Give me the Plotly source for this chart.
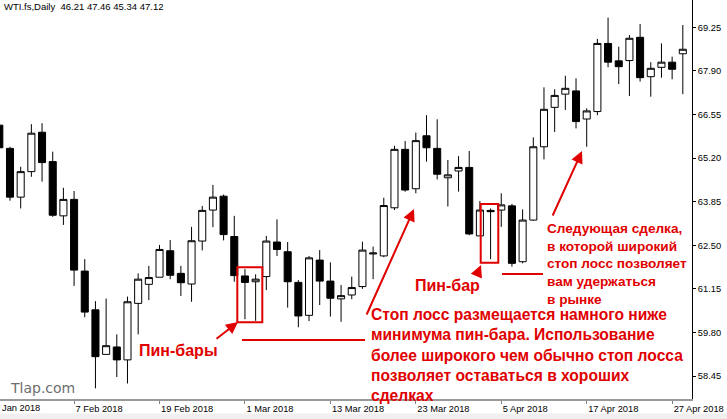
import plotly.graph_objects as go

# ---------------- data ----------------
bar_index = list(range(65))  # trading-day index, bar 0 = 29 Jan 2018

opens = [66.22, 65.50, 63.99, 64.78, 66.00, 65.09, 63.41, 63.92, 61.70, 60.50,
         59.12, 59.35, 58.95, 60.70, 61.29, 61.51, 62.33, 61.63, 61.30, 62.63,
         63.59, 64.02, 62.77, 61.55, 61.37, 61.53, 62.60, 62.30, 61.35, 60.33,
         62.04, 61.39, 60.84, 60.96, 61.22, 62.23, 62.17, 63.66, 65.47, 64.25,
         65.89, 65.50, 64.59, 64.80, 64.91, 62.79, 63.58, 63.59, 63.72, 61.99,
         63.28, 65.55, 66.77, 67.18, 67.28, 66.41, 66.64, 68.75, 68.21, 68.22,
         68.94, 67.72, 68.01, 68.17, 68.43]
highs = [66.30, 65.55, 64.93, 66.25, 66.28, 65.40, 64.28, 64.18, 62.07, 60.77,
         60.85, 59.74, 60.91, 61.63, 61.86, 62.51, 62.66, 61.86, 63.07, 63.72,
         64.37, 64.07, 63.41, 61.76, 61.60, 62.79, 63.30, 62.60, 61.42, 62.17,
         62.35, 61.97, 61.27, 61.53, 62.61, 62.46, 63.97, 65.58, 65.73, 65.99,
         66.53, 66.40, 65.14, 65.26, 65.42, 63.87, 63.64, 64.11, 63.78, 63.61,
         65.84, 67.39, 67.33, 67.75, 67.67, 66.74, 68.89, 69.55, 68.65, 69.01,
         69.35, 68.17, 68.75, 68.34, 69.32]
lows = [65.45, 63.88, 63.64, 64.62, 64.47, 63.38, 63.13, 61.24, 60.27, 58.07,
        59.12, 58.42, 58.22, 59.74, 60.80, 61.51, 61.45, 60.93, 60.75, 62.34,
        63.06, 62.65, 61.37, 60.21, 60.16, 61.11, 62.17, 60.57, 59.96, 60.15,
        60.65, 60.29, 60.13, 60.83, 61.15, 61.45, 62.13, 63.59, 64.16, 64.11,
        65.09, 64.54, 63.70, 64.16, 62.81, 62.79, 62.07, 63.07, 61.84, 61.94,
        63.26, 65.16, 66.01, 66.69, 66.12, 65.55, 66.53, 68.01, 67.49, 67.12,
        67.57, 67.10, 67.69, 67.64, 67.18]
closes = [65.52, 63.99, 64.78, 65.97, 65.06, 63.43, 63.92, 61.73, 60.43, 59.05,
          59.39, 58.95, 60.75, 61.45, 61.50, 62.37, 61.57, 61.34, 62.64, 63.58,
          63.99, 62.83, 61.56, 61.35, 61.45, 62.63, 62.37, 61.37, 60.31, 62.11,
          61.39, 60.86, 60.94, 61.19, 62.35, 62.26, 63.73, 65.47, 64.21, 65.74,
          65.52, 64.70, 64.68, 64.91, 62.85, 63.59, 63.54, 63.75, 61.94, 63.28,
          65.55, 66.71, 67.14, 67.36, 66.33, 66.66, 68.75, 68.17, 68.03, 68.91,
          67.69, 67.98, 68.17, 67.95, 68.57]

date_tick_index = [7, 15, 23, 31, 39, 47, 55, 63]
date_tick_labels = ["7 Feb 2018", "19 Feb 2018", "1 Mar 2018", "13 Mar 2018",
                    "23 Mar 2018", "5 Apr 2018", "17 Apr 2018", "27 Apr 2018"]
price_ticks = [58.45, 59.80, 61.15, 62.50, 63.85, 65.20, 66.55, 67.90, 69.25]

header_text = "WTI.fs,Daily\u00a0\u00a046.21 47.46 45.34 47.12"
label_pins = "Пин-бары"
label_pin = "Пин-бар"
note_main = ["Стоп лосс размещается намного ниже",
             "минимума пин-бара. Использование",
             "более широкого чем обычно стоп лосса",
             "позволяет оставаться в хороших",
             "сделках"]
note_next = ["Следующая сделка,",
             "в которой широкий",
             "стоп лосс позволяет",
             "вам удержаться",
             "в рынке"]

# ---------------- layout helpers ----------------
W, H = 727, 419
ML, MR, MT, MB = 0, 35, 0, 20
PW, PH = W - ML - MR, H - MT - MB
RED = "#e00000"
FONT = "Liberation Sans"


def fx(p):
    return p / PW


def fy(p):
    return 1 - p / PH


fig = go.Figure()
fig.add_trace(go.Candlestick(
    x=bar_index, open=opens, high=highs, low=lows, close=closes,
    increasing=dict(fillcolor="white", line=dict(color="black", width=1)),
    decreasing=dict(fillcolor="black", line=dict(color="black", width=1)),
    whiskerwidth=0, hoverinfo="skip", showlegend=False,
))

annotations = [
    dict(x=fx(2.5), y=1, xref="paper", yref="paper", xanchor="left", yanchor="top",
         text=header_text, showarrow=False, borderpad=0,
         font=dict(family=FONT, size=9.5, color="black")),
    dict(x=fx(1), y=fy(408.5), xref="paper", yref="paper", xanchor="left", yanchor="middle",
         text="Jan 2018", showarrow=False, borderpad=0,
         font=dict(family=FONT, size=9.3, color="black")),
    dict(x=fx(9), y=fy(388), xref="paper", yref="paper", xanchor="left", yanchor="middle",
         text="Tlap.com", showarrow=False, borderpad=0,
         font=dict(family="DejaVu Sans", size=14, color="#6e6e6e")),
    dict(x=fx(138), y=fy(350), xref="paper", yref="paper", xanchor="left", yanchor="middle",
         text="<b>" + label_pins + "</b>", showarrow=False, borderpad=0,
         font=dict(family=FONT, size=16, color=RED)),
    dict(x=fx(414), y=fy(285), xref="paper", yref="paper", xanchor="left", yanchor="middle",
         text="<b>" + label_pin + "</b>", showarrow=False, borderpad=0,
         font=dict(family=FONT, size=16, color=RED)),
    dict(x=fx(370), y=fy(305), xref="paper", yref="paper", xanchor="left", yanchor="top",
         align="left", text="<b>" + "<br>".join(note_main) + "</b>", showarrow=False,
         borderpad=0, font=dict(family=FONT, size=15.6, color=RED)),
    dict(x=fx(546), y=fy(219.5), xref="paper", yref="paper", xanchor="left", yanchor="top",
         align="left", text="<b>" + "<br>".join(note_next) + "</b>", showarrow=False,
         borderpad=0, font=dict(family=FONT, size=13.6, color=RED)),
]

arrows = [((215, 340), (238, 322)),
          ((366, 316), (414, 209)),
          ((476, 277), (481, 265)),
          ((552, 217), (582, 151))]
for (tx, ty), (hx, hy) in arrows:
    annotations.append(dict(
        x=fx(hx), y=fy(hy), xref="paper", yref="paper", text="",
        showarrow=True, ax=tx - hx, ay=ty - hy, arrowcolor=RED,
        arrowwidth=2, arrowhead=2, arrowsize=1.2, standoff=0))

shapes = [
    dict(type="rect", xref="paper", yref="paper", x0=fx(237.3), x1=fx(262.3),
         y0=fy(322.3), y1=fy(267.3), line=dict(color=RED, width=2)),
    dict(type="rect", xref="paper", yref="paper", x0=fx(480.7), x1=fx(498.3),
         y0=fy(262.7), y1=fy(204), line=dict(color=RED, width=2)),
    dict(type="line", xref="paper", yref="paper", x0=fx(242), x1=fx(365),
         y0=fy(340), y1=fy(340), line=dict(color=RED, width=2)),
    dict(type="line", xref="paper", yref="paper", x0=fx(502), x1=fx(543),
         y0=fy(274), y1=fy(274), line=dict(color=RED, width=2)),
    dict(type="rect", xref="paper", yref="paper", x0=-0.01, x1=W / PW + 0.01,
         y0=fy(420), y1=fy(413.5), fillcolor="#f0f0f0", line=dict(width=0), layer="below"),
]

fig.update_layout(
    width=W, height=H,
    margin=dict(l=ML, r=MR, t=MT, b=MB, pad=0),
    paper_bgcolor="white", plot_bgcolor="white",
    showlegend=False,
    boxgap=0.34, boxgroupgap=0,
    annotations=annotations, shapes=shapes,
    xaxis=dict(
        range=[0.063, 64.86], showgrid=False, zeroline=False,
        showline=True, linecolor="#9a9a9a", linewidth=2,
        ticks="outside", ticklen=3, tickcolor="#808080",
        tickvals=date_tick_index, ticktext=date_tick_labels,
        ticklabelposition="outside right",
        tickfont=dict(family=FONT, size=9.3, color="black"),
        rangeslider=dict(visible=False), fixedrange=True,
    ),
    yaxis=dict(
        side="right", range=[57.739, 70.095], showgrid=False, zeroline=False,
        showline=True, linecolor="black", linewidth=1,
        ticks="outside", ticklen=3, tickcolor="black",
        tickvals=price_ticks, ticktext=[f"{v:.2f}" for v in price_ticks],
        tickfont=dict(family=FONT, size=9.3, color="black"), fixedrange=True,
    ),
)

fig.write_html("out.html")
